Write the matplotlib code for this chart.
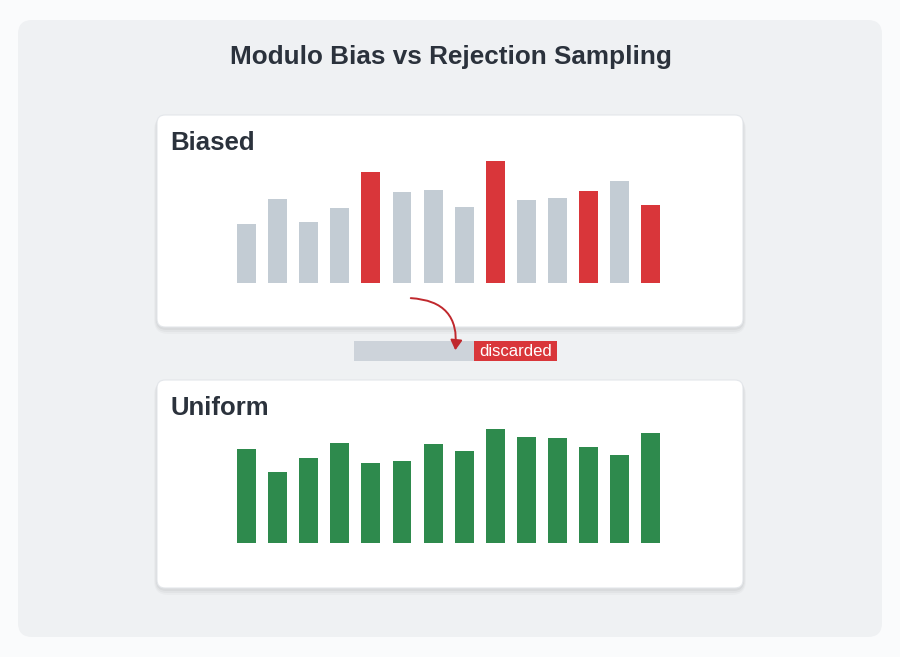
import numpy as np
import matplotlib.pyplot as plt
from matplotlib.patches import FancyBboxPatch, Rectangle, FancyArrowPatch

# data (bar heights, arbitrary units)
biased_heights = [59, 84, 61, 75, 111, 91, 93, 76, 122, 83, 85, 92, 102, 78]
biased_flags = [0, 0, 0, 0, 1, 0, 0, 0, 1, 0, 0, 1, 0, 1]  # 1 = over-represented
uniform_heights = [94, 71, 85, 100, 80, 82, 99, 92, 114, 106, 105, 96, 88, 110]

title = 'Modulo Bias vs Rejection Sampling'
panel_titles = ['Biased', 'Uniform']

W, H = 900, 657
fig = plt.figure(figsize=(9, 6.57), dpi=100)
fig.patch.set_facecolor('#fafbfc')

# background axes in pixel coords
bg = fig.add_axes([0, 0, 1, 1])
bg.set_xlim(0, W)
bg.set_ylim(H, 0)
bg.axis('off')

def card(x0, y0, x1, y1, fc, ec='none', r=10, z=1, shadow=False):
    if shadow:
        for i, a in enumerate([0.035, 0.03, 0.025]):
            d = 2 + i * 2
            bg.add_patch(FancyBboxPatch((x0 - d / 2, y0 + 1), x1 - x0 + d, y1 - y0 + d,
                                        boxstyle='round,pad=0,rounding_size=%d' % (r + d),
                                        fc='black', ec='none', alpha=a, zorder=z - 0.5))
    bg.add_patch(FancyBboxPatch((x0, y0), x1 - x0, y1 - y0,
                                boxstyle='round,pad=0,rounding_size=%d' % r,
                                fc=fc, ec=ec, lw=0.8, zorder=z))

card(18, 20, 882, 637, '#eff1f3', r=14, z=0.5)
card(157, 115, 743, 327, 'white', ec='#e3e6ea', r=8, z=2, shadow=True)
card(157, 380, 743, 588, 'white', ec='#e3e6ea', r=8, z=2, shadow=True)

font = ['Liberation Sans', 'DejaVu Sans']
bg.text(451, 57, title, ha='center', va='center', fontsize=18.8,
        fontweight='bold', color='#2b323c', family=font)
bg.text(170, 143, panel_titles[0], ha='left', va='center', fontsize=18.5,
        fontweight='bold', color='#2b323c', family=font, zorder=5)
bg.text(170, 408, panel_titles[1], ha='left', va='center', fontsize=18.5,
        fontweight='bold', color='#2b323c', family=font, zorder=5)

# discarded strip
bg.add_patch(Rectangle((354, 341), 120, 20, fc='#cdd3da', ec='none', zorder=3))
bg.add_patch(Rectangle((474, 341), 83, 20, fc='#d9363a', ec='none', zorder=3))
bg.text(515.5, 351, 'discarded', ha='center', va='center', fontsize=12,
        color='white', family=font, zorder=4)

arrow = FancyArrowPatch((408, 298), (455, 353), connectionstyle='arc3,rad=-0.55',
                        arrowstyle='-|>,head_length=6,head_width=3.5',
                        color='#c0282d', lw=1.4, zorder=6)
bg.add_patch(arrow)

# bar panels
pitch = 31.1
x_left = 246.5 - pitch / 2
ax_w = pitch * 14
ax_h = 130

def bar_axes(bottom_px):
    ax = fig.add_axes([x_left / W, (H - bottom_px) / H, ax_w / W, ax_h / H])
    ax.set_xlim(-0.5, 13.5)
    ax.set_ylim(0, ax_h)
    ax.axis('off')
    ax.set_zorder(5)
    return ax

idx = np.arange(len(biased_heights))
ax1 = bar_axes(283.3)
colors = ['#d9363a' if f else '#c3ccd4' for f in biased_flags]
ax1.bar(idx, biased_heights, width=0.61, color=colors)

ax2 = bar_axes(543.3)
ax2.bar(idx, uniform_heights, width=0.61, color='#2e8a4d')

fig.savefig('out.png', dpi=100, facecolor=fig.get_facecolor())
